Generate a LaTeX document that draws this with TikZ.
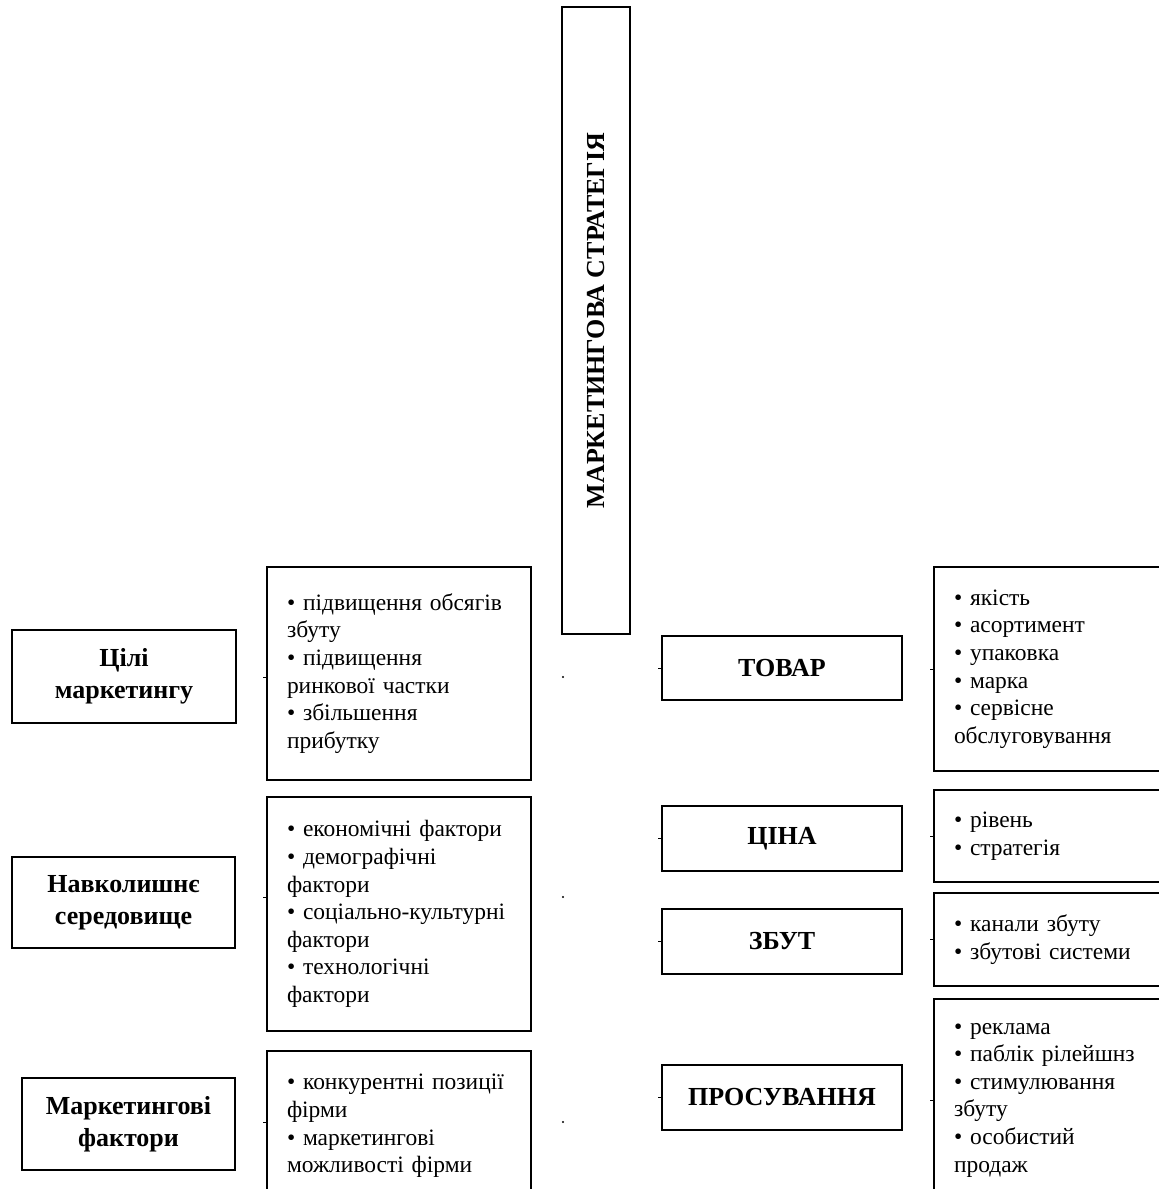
\documentclass[tikz,border=0pt]{standalone}
\usepackage{fontspec}
\setmainfont{Liberation Serif}
\hyphenpenalty=10000
\exhyphenpenalty=10000

\tikzset{every picture/.style={line width=0.75pt}}
\tikzset{
  headbox/.style={draw, line width=1.2pt, align=center, inner sep=0pt,
    font=\fontsize{19.5}{24}\selectfont\bfseries},
  listbox/.style={draw, line width=1.2pt, align=left, inner xsep=15pt, inner ysep=0pt,
    font=\fontsize{17.6}{20.7}\selectfont},
}

\begin{document}
\begin{tikzpicture}[x=0.75pt,y=0.75pt,yscale=-1,xscale=1]
\useasboundingbox (0,0) rectangle (1159,1189);
\clip (0,0) rectangle (1159,1189);

% Strategy
\draw (596,320.5) node [headbox, rotate=90, minimum width=470.25pt, minimum height=51pt] (strat) {МАРКЕТИНГОВА СТРАТЕГІЯ};

% Left column
\draw (124,676.5) node [headbox, minimum width=168pt, minimum height=69.75pt] (goals) {Цілі\\маркетингу};
\draw (123.5,902.5) node [headbox, minimum width=167.25pt, minimum height=68.25pt] (env) {Навколишнє\\середовище};
\draw (128.5,1124) node [headbox, minimum width=159.75pt, minimum height=69pt] (mfac) {Маркетингові\\фактори};

% Text Node
\draw (399,673.5) node [listbox, text width=168pt, minimum height=159.75pt] (goalsl) {• підвищення обсягів\\збуту\\• підвищення\\ринкової частки\\• збільшення\\прибутку};
% Text Node
\draw (399,914) node [listbox, text width=168pt, minimum height=175.5pt] (envl) {• економічні фактори\\• демографічні\\фактори\\• соціально-культурні\\фактори\\• технологічні\\фактори};
% Text Node
\draw (399,1126) node [listbox, text width=168pt, minimum height=112.5pt] (mfacl) {• конкурентні позиції\\фірми\\• маркетингові\\можливості фірми};

% Right column
\draw (782,668) node [headbox, minimum width=180pt, minimum height=48pt] (product) {ТОВАР};
\draw (782,838.5) node [headbox, minimum width=180pt, minimum height=48.75pt] (price) {ЦІНА};
\draw (782,941.5) node [headbox, minimum width=180pt, minimum height=48.75pt] (place) {ЗБУТ};
\draw (782,1097.5) node [headbox, minimum width=180pt, minimum height=48.75pt] (promo) {ПРОСУВАННЯ};

% Text Node
\draw (1054,669) node [listbox, text width=150pt, minimum height=153pt] (productl) {• якість\\• асортимент\\• упаковка\\• марка\\• сервісне\\обслуговування};
% Text Node
\draw (1054,836) node [listbox, text width=150pt, minimum height=69pt] (pricel) {• рівень\\• стратегія};
% Text Node
\draw (1054,939.5) node [listbox, text width=150pt, minimum height=69.75pt] (placel) {• канали збуту\\• збутові системи};
% Text Node
\draw (1054,1100) node [listbox, text width=150pt, minimum height=151.5pt] (promol) {• реклама\\• паблік рілейшнз\\• стимулювання\\збуту\\• особистий\\продаж};

% stray dots and stubs
\coordinate (d1) at (563,677);
\coordinate (d2) at (563,897);
\coordinate (d3) at (563,1122);
\fill (d1) circle [radius=1.2];
\fill (d2) circle [radius=1.2];
\fill (d3) circle [radius=1.2];
\draw (goalsl.west |- d1) -- ++(-3,0);
\draw (envl.west |- d2) -- ++(-3,0);
\draw (mfacl.west |- d3) -- ++(-3,0);
\draw (product.west) -- ++(-3,0);
\draw (price.west) -- ++(-3,0);
\draw (place.west) -- ++(-3,0);
\draw (promo.west) -- ++(-3,0);
\draw (productl.west) -- ++(-3,0);
\draw (pricel.west) -- ++(-3,0);
\draw (placel.west) -- ++(-3,0);
\draw (promol.west) -- ++(-3,0);

\end{tikzpicture}
\end{document}
